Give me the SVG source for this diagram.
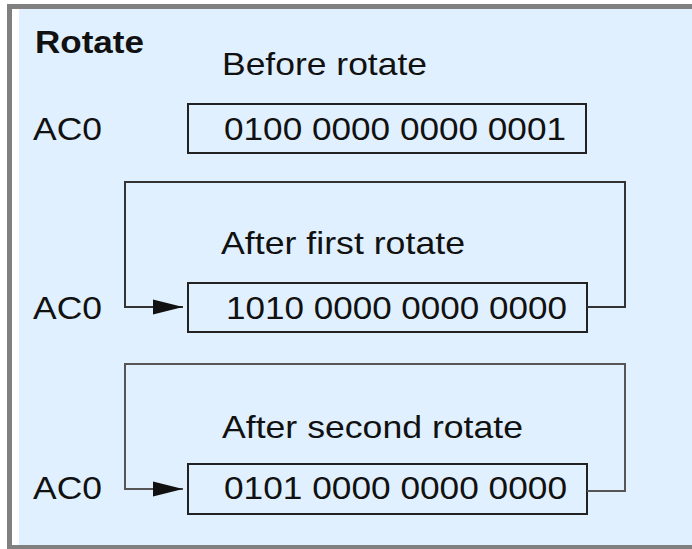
<svg xmlns="http://www.w3.org/2000/svg" width="692" height="549" viewBox="0 0 692 549">
<defs>
<style>
.t{font-family:"Liberation Sans",Arial,sans-serif;font-size:32px;fill:#111}
.b{font-weight:bold}
.box{fill:none;stroke:#222;stroke-width:2}
.l1{fill:none;stroke:#333;stroke-width:2}
.l2{fill:none;stroke:#555;stroke-width:2}
</style>
<marker id="ah" viewBox="0 0 30 18" markerWidth="30" markerHeight="18" refX="30" refY="9" orient="auto" markerUnits="userSpaceOnUse">
<path d="M0,1.5 L30,9 L0,16.5 Z" fill="#111"/>
</marker>
</defs>
<rect x="0" y="0" width="692" height="549" fill="#fff"/>
<rect x="7" y="4" width="685" height="545" fill="#808080"/>
<rect x="12" y="9" width="680" height="536" fill="#e0f0fe"/>
<rect x="12" y="9" width="7" height="536" fill="#fff"/>
<text class="t b" x="35" y="53" textLength="109" lengthAdjust="spacingAndGlyphs">Rotate</text>
<g id="n1">
<text class="t" x="222" y="75" textLength="205" lengthAdjust="spacingAndGlyphs">Before rotate</text>
<text class="t" x="33" y="140" textLength="69" lengthAdjust="spacingAndGlyphs">AC0</text>
<rect class="box" x="188" y="104" width="398" height="49"/>
<text class="t" x="224" y="140" textLength="342" lengthAdjust="spacingAndGlyphs">0100 0000 0000 0001</text>
</g>
<g id="n2">
<text class="t" x="221" y="254" textLength="244" lengthAdjust="spacingAndGlyphs">After first rotate</text>
<text class="t" x="33" y="319" textLength="69" lengthAdjust="spacingAndGlyphs">AC0</text>
<rect class="box" x="188" y="283" width="399" height="49"/>
<text class="t" x="226" y="319" textLength="341" lengthAdjust="spacingAndGlyphs">1010 0000 0000 0000</text>
</g>
<g id="n3">
<text class="t" x="222" y="438" textLength="301" lengthAdjust="spacingAndGlyphs">After second rotate</text>
<text class="t" x="33" y="499" textLength="69" lengthAdjust="spacingAndGlyphs">AC0</text>
<rect class="box" x="188" y="464" width="399" height="50"/>
<text class="t" x="224" y="499" textLength="343" lengthAdjust="spacingAndGlyphs">0101 0000 0000 0000</text>
</g>
<g id="connectors">
<path class="l1" d="M587,307 H625 V182 H125 V307 H183" marker-end="url(#ah)"/>
<path class="l2" d="M587,491 H625 V364 H125 V489 H183" marker-end="url(#ah)"/>
</g>
</svg>
